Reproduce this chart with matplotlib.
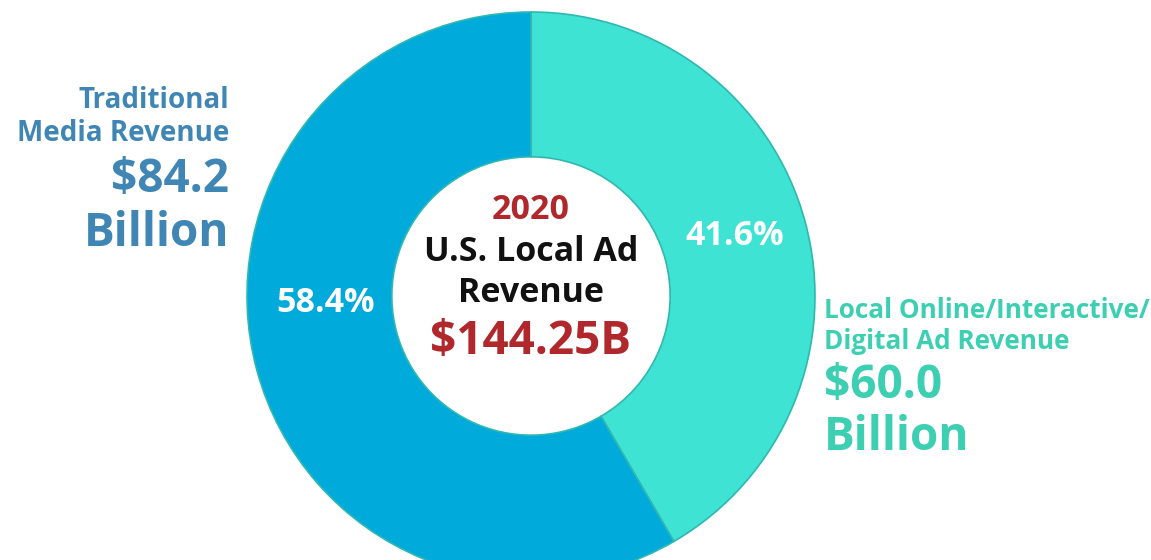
import matplotlib.pyplot as plt

# 2020 U.S. local ad revenue, billions
segments = ["Local Online/Interactive/\nDigital Ad Revenue", "Traditional\nMedia Revenue"]
revenue = [60.0, 84.2]
total_label = "$144.25B"
year = "2020"
colors = ["#3ee3d3", "#00aadb"]
text_colors = ["#3dcfb2", "#3f86b4"]

W, H = 1151, 560
cx, cy, R = 531, 296, 284   # donut centre / radius in pixels

fig = plt.figure(figsize=(W / 100, H / 100), dpi=100)
ax = fig.add_axes([0, 0, 1, 1])

ax.pie(revenue, colors=colors, startangle=90, counterclock=False, radius=1,
       wedgeprops=dict(width=0.51, edgecolor="#2fb8b0", linewidth=1.2))

# pie() resets the limits, so set them afterwards
ax.set_xlim(-cx / R, (W - cx) / R)
ax.set_ylim(-(H - cy) / R, cy / R)
ax.set_aspect("equal")
ax.axis("off")


def px(x, y):
    # pixel position (from top-left) -> data coords
    return (x - cx) / R, (cy - y) / R


font = "Open Sans"
pct = [v / sum(revenue) * 100 for v in revenue]

ax.text(*px(735, 236), f"{pct[0]:.1f}%", color="white", fontsize=24.5, fontweight="bold",
        family=font, ha="center", va="center")
ax.text(*px(326, 303), f"{pct[1]:.1f}%", color="white", fontsize=24.5, fontweight="bold",
        family=font, ha="center", va="center")

# centre text
ax.text(*px(531, 210), year, color="#b0282c", fontsize=24.5, fontweight="bold",
        family=font, ha="center", va="center")
ax.text(*px(531, 252), "U.S. Local Ad", color="#111111", fontsize=24.5, fontweight="bold",
        family=font, ha="center", va="center")
ax.text(*px(531, 293), "Revenue", color="#111111", fontsize=24.5, fontweight="bold",
        family=font, ha="center", va="center")
ax.text(*px(531, 341), total_label, color="#b0282c", fontsize=33, fontweight="bold",
        family=font, ha="center", va="center")

# left side label (traditional)
ax.text(*px(229, 117), segments[1], color=text_colors[1], fontsize=20, fontweight="bold",
        family=font, ha="right", va="center", linespacing=1.15)
ax.text(*px(229, 179), f"${revenue[1]:.1f}", color=text_colors[1], fontsize=33, fontweight="bold",
        family=font, ha="right", va="center")
ax.text(*px(229, 233), "Billion", color=text_colors[1], fontsize=33, fontweight="bold",
        family=font, ha="right", va="center")

# right side label (digital)
ax.text(*px(824, 326), segments[0], color=text_colors[0], fontsize=18.8, fontweight="bold",
        family=font, ha="left", va="center", linespacing=1.15)
ax.text(*px(824, 385), f"${revenue[0]:.1f}", color=text_colors[0], fontsize=33, fontweight="bold",
        family=font, ha="left", va="center")
ax.text(*px(824, 437), "Billion", color=text_colors[0], fontsize=33, fontweight="bold",
        family=font, ha="left", va="center")

fig.savefig("out.png", dpi=100)
